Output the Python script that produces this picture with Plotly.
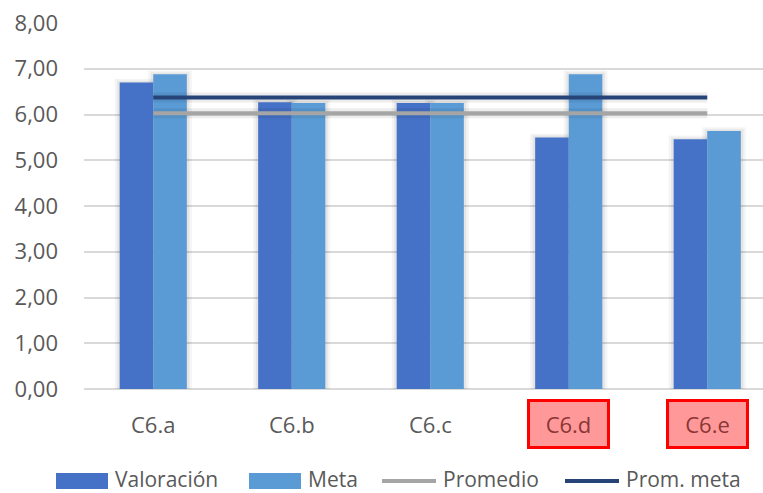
import plotly.graph_objects as go

# Data
categories = ["C6.a", "C6.b", "C6.c", "C6.d", "C6.e"]
valoracion = [6.70, 6.27, 6.25, 5.50, 5.46]
meta = [6.88, 6.25, 6.25, 6.88, 5.64]
promedio = 6.03
prom_meta = 6.37
highlighted = ["C6.d", "C6.e"]
y_ticks = [0, 1, 2, 3, 4, 5, 6, 7, 8]

FONT = "Open Sans"
TXT = "#595959"
TICK_SIZE = 22
LEG_SIZE = 21
W, H = 763, 493
ML, MR, MT, MB = 84, 0, 23, 104
PW, PH = W - ML - MR, H - MT - MB
PX_PER_CAT = 138.5

C_VAL = "#4571C7"
C_META = "#5A9BD5"
C_PROM = "#A5A5A5"
C_PMETA = "#264478"

BAR_W = 0.2425           # width of one bar in category units
HALO = 2.5 / PX_PER_CAT  # soft shadow around each bar


def px_x(px):
    return (px - ML) / PW


def px_y(py):
    return (H - MB - py) / PH


fig = go.Figure()

# soft shadow behind each bar
for vals, off in ((valoracion, -BAR_W), (meta, 0.0)):
    for k, a in ((2, 0.045), (1, 0.06)):
        fig.add_trace(go.Bar(x=categories, y=[v + k * 0.04 for v in vals],
                             offset=off - k * HALO, width=BAR_W + 2 * k * HALO,
                             marker=dict(color=f"rgba(0,0,0,{a})", line=dict(width=0)),
                             hoverinfo="skip"))

fig.add_trace(go.Bar(x=categories, y=valoracion, name="Valoración",
                     offset=-BAR_W, width=BAR_W,
                     marker=dict(color=C_VAL, line=dict(width=0))))
fig.add_trace(go.Bar(x=categories, y=meta, name="Meta",
                     offset=0, width=BAR_W,
                     marker=dict(color=C_META, line=dict(width=0))))

line_x = [categories[0], categories[-1]]
for val in (promedio, prom_meta):
    fig.add_trace(go.Scatter(x=line_x, y=[val, val], mode="lines",
                             line=dict(color="rgba(0,0,0,0.07)", width=10),
                             hoverinfo="skip"))
fig.add_trace(go.Scatter(x=line_x, y=[promedio, promedio], mode="lines",
                         name="Promedio", line=dict(color=C_PROM, width=4)))
fig.add_trace(go.Scatter(x=line_x, y=[prom_meta, prom_meta], mode="lines",
                         name="Prom. meta", line=dict(color=C_PMETA, width=4)))

annotations = []
# category labels; flagged ones get a red box
for c in categories:
    if c in highlighted:
        annotations.append(dict(
            x=c, xref="x", y=px_y(424), yref="paper", yanchor="middle",
            text=c, showarrow=False,
            font=dict(family=FONT, size=TICK_SIZE, color="#8B3535"),
            bgcolor="#FF9999", bordercolor="#FF0000", borderwidth=3, borderpad=0,
            width=77, height=44))
    else:
        annotations.append(dict(
            x=c, xref="x", y=px_y(424), yref="paper", yanchor="middle",
            text=c, showarrow=False,
            font=dict(family=FONT, size=TICK_SIZE, color=TXT)))

# legend row
shapes = []
legend_items = [
    ("Valoración", "bar", C_VAL, 56, 108),
    ("Meta", "bar", C_META, 249, 301),
    ("Promedio", "line", C_PROM, 382, 436),
    ("Prom. meta", "line", C_PMETA, 565, 619),
]
ly = 481
for label, kind, col, x0, x1 in legend_items:
    if kind == "bar":
        shapes.append(dict(type="rect", xref="paper", yref="paper",
                           x0=px_x(x0), x1=px_x(x1), y0=px_y(ly + 8), y1=px_y(ly - 8),
                           fillcolor=col, line=dict(width=0)))
    else:
        shapes.append(dict(type="line", xref="paper", yref="paper",
                           x0=px_x(x0), x1=px_x(x1), y0=px_y(ly), y1=px_y(ly),
                           line=dict(color=col, width=4)))
    annotations.append(dict(
        x=px_x(x1 + 5), xref="paper", y=px_y(ly - 2.5), yref="paper",
        xanchor="left", yanchor="middle", text=label, showarrow=False,
        font=dict(family=FONT, size=LEG_SIZE, color=TXT)))

fig.update_layout(
    width=W, height=H,
    margin=dict(l=ML, r=MR, t=MT, b=MB, pad=0),
    paper_bgcolor="white", plot_bgcolor="white",
    barmode="overlay",
    separators=",.",
    showlegend=False,
    font=dict(family=FONT, size=TICK_SIZE, color=TXT),
    xaxis=dict(type="category", categoryorder="array", categoryarray=categories,
               range=[-0.5, -0.5 + PW / PX_PER_CAT], showticklabels=False,
               showgrid=False, zeroline=False, showline=False, ticks=""),
    yaxis=dict(range=[0, 8], tickvals=y_ticks, tickformat=".2f",
               showgrid=True, gridcolor="#D9D9D9", gridwidth=1.5,
               zeroline=True, zerolinecolor="#D9D9D9", zerolinewidth=1.5,
               showline=False, ticks="", ticklabelstandoff=25,
               tickfont=dict(family=FONT, size=TICK_SIZE, color=TXT)),
    annotations=annotations,
    shapes=shapes,
)

fig.write_html("out.html")
